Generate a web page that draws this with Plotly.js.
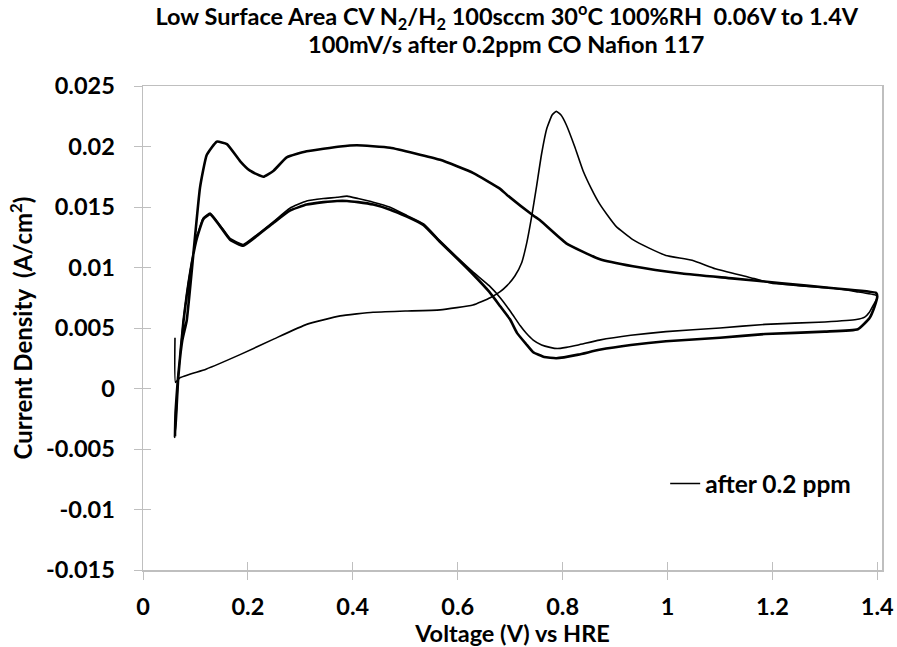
<!DOCTYPE html>
<html>
<head>
<meta charset="utf-8">
<script src="https://cdn.plot.ly/plotly-3.0.1.min.js"></script>
<style>html,body{margin:0;padding:0;background:#fff;}#chart{width:897px;height:647px;}</style>
</head>
<body>
<div id="chart"></div>
<script>
// Cycle 1 (thin line): CO stripping scan and its return scan
const cycle1Voltage = [0.061,0.062,0.0706,0.12,0.185,0.25,0.312,0.376,0.4387,0.5,0.5665,0.629,0.662,0.681,0.694,0.709,0.722,0.732,0.741,0.75,0.76,0.77,0.78,0.788,0.797,0.807,0.823,0.839,0.855,0.87,0.886,0.902,0.934,0.965,0.997,1.047,1.091,1.155,1.199,1.249,1.312,1.36,1.398,1.4,
  1.394,1.385,1.376,1.36,1.3,1.186,1.1,0.997,0.93,0.87,0.83,0.807,0.79,0.776,0.76,0.744,0.73,0.719,0.7,0.681,0.66,0.63,0.6,0.5665,0.535,0.503,0.47,0.439,0.41,0.389,0.37,0.344,0.312,0.28,0.249,0.217,0.191,0.166,0.147,0.128,0.115,0.102,0.09,0.077,0.067,0.064,0.061];
const cycle1Current = [0.0042,0.0005,0.0009,0.0016,0.0028,0.0041,0.0053,0.006,0.0063,0.0064,0.0065,0.0069,0.0075,0.008,0.0085,0.0093,0.0104,0.0121,0.0142,0.0166,0.0194,0.0215,0.0226,0.0229,0.0226,0.0218,0.02,0.018,0.0165,0.0153,0.0143,0.0134,0.0123,0.0116,0.011,0.0106,0.0099,0.0092,0.0087,0.0085,0.0083,0.008,0.0077,0.0075,
  0.007,0.0063,0.0059,0.0057,0.0055,0.0053,0.005,0.0047,0.0044,0.004,0.0036,0.0034,0.0033,0.0034,0.0036,0.004,0.0046,0.0052,0.0064,0.0075,0.0085,0.0096,0.0108,0.0122,0.0136,0.0143,0.015,0.0154,0.0157,0.0159,0.0158,0.0157,0.0155,0.0149,0.0138,0.0127,0.0119,0.0124,0.0135,0.0145,0.0141,0.0124,0.0097,0.0056,0.0009,-0.0016,-0.0039];

// Cycle 2 (thick line): scan after CO removal and its return scan
const cycle2Voltage = [0.061,0.062,0.066,0.075,0.0833,0.096,0.1087,0.1215,0.1406,0.16,0.185,0.204,0.2295,0.249,0.274,0.312,0.376,0.4076,0.471,0.5665,0.63,0.681,0.694,0.744,0.757,0.807,0.87,0.934,1.028,1.123,1.218,1.312,1.398,1.4,
  1.395,1.385,1.363,1.3,1.186,1.1,0.997,0.93,0.87,0.83,0.788,0.765,0.744,0.73,0.713,0.7,0.681,0.66,0.63,0.6,0.5665,0.535,0.503,0.47,0.439,0.41,0.389,0.37,0.344,0.312,0.28,0.249,0.217,0.191,0.166,0.147,0.128,0.115,0.102,0.09,0.077,0.067,0.064,0.061];
const cycle2Current = [-0.004,-0.002,0.0005,0.004,0.0056,0.0111,0.0166,0.0193,0.0204,0.0202,0.0188,0.018,0.0175,0.018,0.0191,0.0196,0.02,0.0201,0.0199,0.0189,0.0178,0.0165,0.016,0.0143,0.0139,0.012,0.0107,0.0101,0.0095,0.0091,0.0087,0.0083,0.0079,0.0076,
  0.0068,0.0058,0.0049,0.0047,0.0045,0.0042,0.0039,0.0036,0.0032,0.0028,0.0025,0.0026,0.003,0.0037,0.0046,0.0057,0.0068,0.008,0.0094,0.0107,0.0121,0.0135,0.0142,0.0148,0.0152,0.0154,0.0155,0.0155,0.0154,0.0152,0.0147,0.0137,0.0126,0.0118,0.0123,0.0134,0.0144,0.014,0.0123,0.0096,0.0055,0.0008,-0.0016,-0.004];

const xTickVals = [0,0.2,0.4,0.6,0.8,1,1.2,1.4];
const xTickText = ['0','0.2','0.4','0.6','0.8','1','1.2','1.4'];
const yTickVals = [0.025,0.02,0.015,0.01,0.005,0,-0.005,-0.01,-0.015];
const yTickText = ['0.025','0.02','0.015','0.01','0.005','0','-0.005','-0.01','-0.015'];
const seriesName = 'after 0.2 ppm';
const titleLine1 = 'Low Surface Area CV N<sub>2</sub>/H<sub>2</sub> 100sccm 30<sup>o</sup>C 100%RH  0.06V to 1.4V';
const titleLine2 = '100mV/s after 0.2ppm CO Nafion 117';

const FONT = 'Lato, "Open Sans", sans-serif';
const AXC = '#bfbfbf';
const bold = (s) => ({family:FONT, size:s, weight:'bold', color:'#000'});

const traces = [
  {x: cycle1Voltage, y: cycle1Current, type:'scatter', mode:'lines', name: seriesName,
   line:{color:'#000', width:1.6, shape:'spline', smoothing:0.4}, showlegend:true},
  {x: cycle2Voltage, y: cycle2Current, type:'scatter', mode:'lines', name: seriesName,
   line:{color:'#000', width:2.6, shape:'spline', smoothing:0.4}, showlegend:false},
  {x: [], y: [], xaxis:'x2', yaxis:'y2', type:'scatter', mode:'lines', showlegend:false, hoverinfo:'skip'}
];

const layout = {
  width: 897, height: 647,
  paper_bgcolor:'#fff', plot_bgcolor:'#fff',
  margin:{l:142.5, r:15, t:86, b:76.5, pad:0},
  font:{family:FONT, color:'#000', size:23, weight:'bold'},
  showlegend:true,
  title:{
    text: titleLine1,
    font: bold(23.5),
    x:0.565, xref:'container', xanchor:'center',
    y:1-17/647, yref:'container', yanchor:'middle'
  },
  annotations:[{
    text: titleLine2, font: bold(23.5), showarrow:false,
    xref:'paper', yref:'paper', x:(506-142.5)/739.5, y:(570.5-44)/484.5,
    xanchor:'center', yanchor:'middle'
  }],
  xaxis:{
    range:[0,1.409], tickvals:xTickVals, ticktext:xTickText,
    showline:true, linecolor:AXC, linewidth:1.5, mirror:true,
    ticks:'outside', ticklen:8, tickcolor:AXC, tickwidth:1,
    showgrid:false, zeroline:false,
    tickfont: bold(23.5),
    ticklabelstandoff:7,
    title:{text:'Voltage (V) vs HRE', font: bold(23.5), standoff:2}
  },
  yaxis:{
    range:[-0.015,0.025], tickvals:yTickVals, ticktext:yTickText,
    showline:true, linecolor:AXC, linewidth:1.5, mirror:true,
    ticks:'outside', ticklen:8, tickcolor:AXC, tickwidth:1,
    showgrid:false, zeroline:false,
    tickfont: bold(23.5),
    ticklabelstandoff:14,
    title:{text:'Current Density  (A/cm<sup>2</sup>)', font: bold(24), standoff:6}
  },
  xaxis2:{overlaying:'x', range:[0,1.409], tickvals:xTickVals, showticklabels:false,
    ticks:'inside', ticklen:8, tickcolor:AXC, tickwidth:1, showline:false, showgrid:false, zeroline:false, side:'bottom'},
  yaxis2:{overlaying:'y', range:[-0.015,0.025], tickvals:yTickVals, showticklabels:false,
    ticks:'inside', ticklen:8, tickcolor:AXC, tickwidth:1, showline:false, showgrid:false, zeroline:false, side:'left'},
  legend:{
    x:0.7066, y:0.1785, xanchor:'left', yanchor:'middle',
    bgcolor:'rgba(0,0,0,0)', borderwidth:0,
    font: bold(24.5)
  }
};

Plotly.newPlot('chart', traces, layout, {displayModeBar:false, staticPlot:true});
</script>
</body>
</html>
